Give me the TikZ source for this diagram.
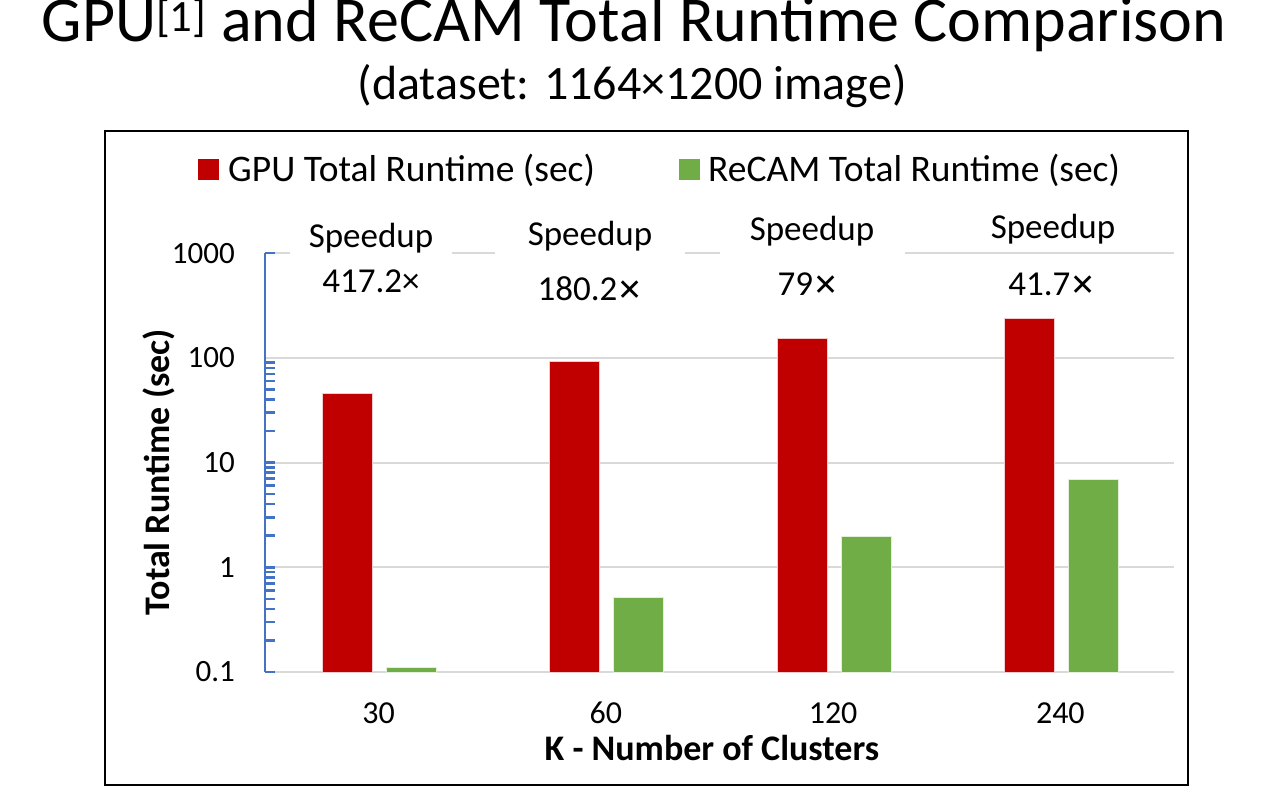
\documentclass[tikz,border=0pt]{standalone}
\usepackage{fontspec}
\setmainfont{Carlito}
\newfontfamily\symfont{DejaVu Sans}
\usetikzlibrary{positioning}

\definecolor{gpured}{HTML}{C00000}
\definecolor{camgreen}{HTML}{70AD47}
\definecolor{axisblue}{HTML}{4472C4}
\definecolor{gridgray}{HTML}{D9D9D9}

% y position (in px) of a runtime value on the log axis
\newcommand{\runy}[1]{672-104.75*(ln(#1)/ln(10)+1)}
\newcommand{\bigx}{{\symfont\fontsize{30}{34}\selectfont ✕}}

\begin{document}
\begin{tikzpicture}[
    x=1pt, y=-1pt,
    every node/.style={inner sep=0pt, anchor=base},
    title/.style={font=\fontsize{64}{70}\selectfont},
    subtitle/.style={font=\fontsize{48}{54}\selectfont},
    legend/.style={font=\fontsize{37.5}{42}\selectfont, anchor=base west},
    legkey/.style={minimum size=21pt, anchor=center},
    ticklabel/.style={font=\fontsize{31}{35}\selectfont, anchor=base east},
    catlabel/.style={font=\fontsize{32}{36}\selectfont},
    axistitle/.style={font=\fontsize{36}{40}\selectfont\bfseries},
    speedbox/.style={font=\fontsize{35}{40}\selectfont, fill=white, inner ysep=8pt},
    speedval/.style={font=\fontsize{35}{40}\selectfont},
    gpubar/.style={fill=gpured, draw=white!80!gpured, line width=0.8pt},
    cambar/.style={fill=camgreen, draw=white!80!camgreen, line width=0.8pt},
    gridline/.style={draw=gridgray, line width=2pt},
    tick/.style={draw=axisblue, line width=2.5pt}
]
\useasboundingbox (0,0) rectangle (1272,801);

% Title
\node[title] (title) at (634,41) {GPU\textsuperscript{[1]} and ReCAM Total Runtime Comparison};
\node[subtitle] (subtitle) at (632,99) {(dataset: 1164×1200 image)};

% Chart frame
\draw[line width=2.5pt] (105,131) rectangle (1188,785);

% Legend
\node[legkey, fill=gpured] (gpukey) at (208.5,169.5) {};
\node[legend] (gpuleg) at (228,181) {GPU Total Runtime (sec)};
\node[legkey, fill=camgreen] (camkey) at (689.5,169.5) {};
\node[legend] (camleg) at (708,181) {ReCAM Total Runtime (sec)};

% Gridlines and tick labels
\foreach \v/\lbl in {0.1/0.1, 1/1, 10/10, 100/100, 1000/1000} {
    \draw[gridline] (265,{\runy{\v}}) -- (1174,{\runy{\v}});
    \node[ticklabel] (y\lbl) at (235,{\runy{\v}+10}) {\lbl};
}

% Speedup labels
\node[speedbox, minimum width=162pt] (sp30)  at (371,247)  {Speedup};
\node[speedval] (su30)  at (371,292)  {417.2×};
\node[speedbox, minimum width=190pt] (sp60)  at (590,245)  {Speedup};
\node[speedval] (su60)  at (590,300)  {180.2\bigx};
\node[speedbox, minimum width=185pt] (sp120) at (812,240)  {Speedup};
\node[speedval] (su120) at (808,295)  {79\bigx};
\node[speedbox, minimum width=191pt] (sp240) at (1053,238) {Speedup};
\node[speedval] (su240) at (1052,295) {41.7\bigx};

% Bars
\foreach \k/\gpu/\cam [count=\i from 0] in {30/46/0.11, 60/93/0.51, 120/154/1.95, 240/240/6.9} {
    \pgfmathsetmacro{\cx}{378.6+227.25*\i}
    \draw[gpubar] (\cx-56,672) rectangle (\cx-6,{\runy{\gpu}});
    \draw[cambar] (\cx+8,672) rectangle (\cx+58,{\runy{\cam}});
    \node[catlabel] (k\k) at (\cx,723) {\k};
}

% Log axis with minor ticks
\draw[tick] (265,672) -- (265,253);
\foreach \d in {0,1,2} {
    \foreach \m in {1,...,9} {
        \draw[tick] (265,{\runy{\m*10^(\d-1)}}) -- ++(10,0);
    }
}
\draw[tick] (265,253) -- ++(10,0);

% Axis titles
\node[axistitle, rotate=90, anchor=center] (ytitle) at (159,472) {Total Runtime (sec)};
\node[axistitle] (xtitle) at (712,760) {K - Number of Clusters};

\end{tikzpicture}
\end{document}
